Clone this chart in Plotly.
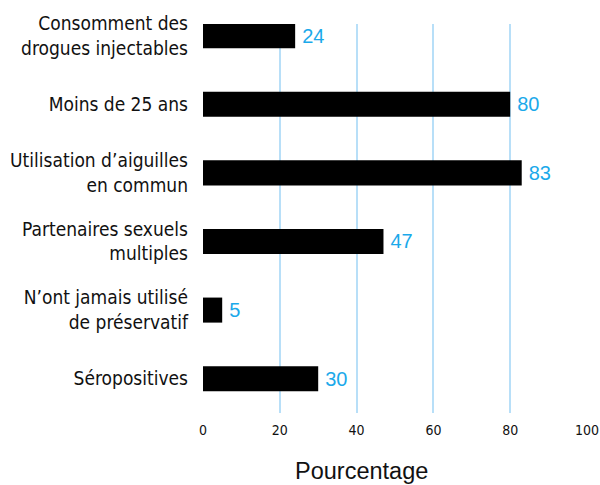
import plotly.graph_objects as go

categories = [
    "Consomment des<br>drogues injectables",
    "Moins de 25 ans",
    "Utilisation d’aiguilles<br>en commun",
    "Partenaires sexuels<br>multiples",
    "N’ont jamais utilisé<br>de préservatif",
    "Séropositives",
]
values = [24, 80, 83, 47, 5, 30]
x_ticks = [0, 20, 40, 60, 80, 100]
x_title = "Pourcentage"

COND = "Liberation Sans Narrow, DejaVu Sans Condensed, Arial Narrow, sans-serif"
REG = "Liberation Sans, Arial, Helvetica, sans-serif"

L, R, T, B = 203, 13, 24, 72
W, H = 600, 485

fig = go.Figure()
fig.add_trace(go.Bar(
    x=values, y=categories, orientation="h",
    marker=dict(color="#000000", line=dict(width=0)),
    text=["\u2009" + str(v) for v in values], textposition="outside",
    textfont=dict(color="#1BA9EA", size=20, family=REG),
    cliponaxis=False,
))

fig.update_layout(
    width=W, height=H,
    margin=dict(l=L, r=R, t=T, b=B, autoexpand=False),
    paper_bgcolor="white", plot_bgcolor="white",
    showlegend=False,
    bargap=0.635,
    xaxis=dict(
        range=[0, 100], tickvals=x_ticks, ticktext=[str(t) for t in x_ticks],
        showgrid=True, gridcolor="#B8DFF8", gridwidth=1.5,
        zeroline=True, zerolinecolor="rgba(0,0,0,0)",
        showline=False, ticks="", ticklabelstandoff=7,
        tickfont=dict(family=COND, size=14, color="#111111"),
        automargin=False, fixedrange=True,
    ),
    yaxis=dict(
        categoryorder="array", categoryarray=categories,
        range=[5.5, -0.17],
        showgrid=False, zeroline=False, showline=False, ticks="",
        ticklabelstandoff=14,
        tickfont=dict(family=COND, size=19, color="#111111"),
        automargin=False, fixedrange=True,
    ),
    annotations=[dict(
        text=x_title,
        x=(361 - L) / (W - L - R), y=(H - B - 471) / (H - T - B),
        xref="paper", yref="paper", xanchor="center", yanchor="middle",
        showarrow=False, font=dict(family=REG, size=23.5, color="#111111"),
    )],
)

fig.write_html(
    "out.html",
    config={"displayModeBar": False},
    post_script="document.body.style.margin='0';document.body.style.overflow='hidden';",
)
